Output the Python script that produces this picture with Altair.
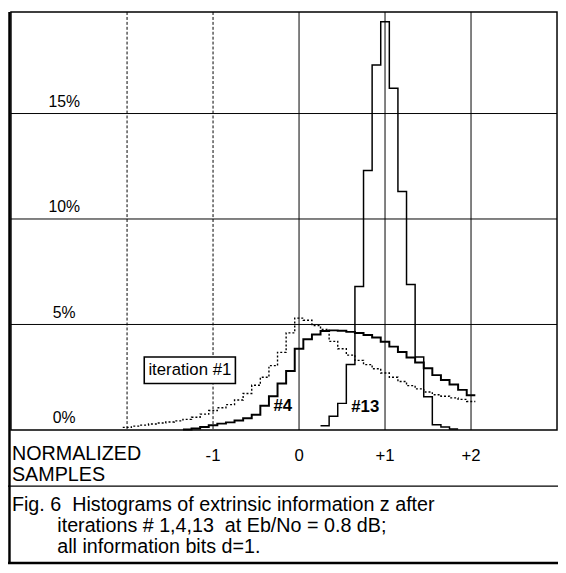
import altair as alt
import pandas as pd

FONT = "Liberation Sans, Arial, Helvetica, sans-serif"

# ---- data: histogram bin centres (normalized samples) and heights (%) ----
BIN = 0.1
it1_x = [-2.0, -1.9, -1.8, -1.7, -1.6, -1.5, -1.4, -1.3, -1.2, -1.1, -1.0, -0.9, -0.8, -0.7,
         -0.6, -0.5, -0.4, -0.3, -0.2, -0.1, 0.0, 0.1, 0.2, 0.3, 0.4, 0.5, 0.6, 0.7, 0.8, 0.9,
         1.0, 1.1, 1.2, 1.3, 1.4, 1.5, 1.6, 1.7, 1.8, 1.9, 2.0]
it1_y = [0.12, 0.18, 0.23, 0.28, 0.33, 0.38, 0.43, 0.50, 0.60, 0.75, 0.92, 1.05, 1.20, 1.42,
         1.73, 2.12, 2.50, 3.05, 3.68, 4.60, 5.30, 5.20, 4.95, 4.77, 4.20, 3.85, 3.55, 3.30,
         3.10, 2.90, 2.70, 2.50, 2.30, 2.10, 1.95, 1.80, 1.67, 1.60, 1.52, 1.45, 1.35]

it4_x = [-1.3, -1.2, -1.1, -1.0, -0.9, -0.8, -0.7, -0.6, -0.5, -0.4, -0.3, -0.2, -0.1, 0.0,
         0.1, 0.2, 0.3, 0.4, 0.5, 0.6, 0.7, 0.8, 0.9, 1.0, 1.1, 1.2, 1.3, 1.4, 1.5, 1.6, 1.7,
         1.8, 1.9, 2.0]
it4_y = [0.02, 0.07, 0.14, 0.22, 0.30, 0.36, 0.45, 0.56, 0.72, 1.15, 1.60, 2.20, 2.80, 3.85,
         4.30, 4.53, 4.69, 4.72, 4.70, 4.65, 4.60, 4.50, 4.38, 4.18, 3.95, 3.70, 3.44, 3.20,
         2.93, 2.60, 2.37, 2.15, 1.90, 1.65]

it13_x = [0.3, 0.4, 0.5, 0.6, 0.7, 0.8, 0.9, 1.0, 1.1, 1.2, 1.3, 1.4, 1.5, 1.6, 1.7, 1.8]
it13_y = [0.20, 0.65, 1.26, 3.10, 6.80, 12.30, 17.30, 19.35, 16.20, 11.30, 6.90, 3.46, 1.57,
          0.25, 0.14, 0.05]

x_grid = [-2, -1, 0, 1, 2]
x_grid_dashed = [True, True, False, False, False]
y_grid = [5, 10, 15]
x_tick_vals = [-1, 0, 1, 2]
x_tick_text = ["-1", "0", "+1", "+2"]
y_tick_vals = [0, 5, 10, 15]
y_tick_text = ["0%", "5%", "10%", "15%"]

NB = "\u00a0"
caption = ["Fig. 6" + NB + NB + "Histograms of extrinsic information z after",
           "iterations # 1,4,13" + NB + NB + "at Eb/No = 0.8 dB;",
           "all information bits d=1."]
axis_title = ["NORMALIZED", "SAMPLES"]

labels = pd.DataFrame({"x": [-0.19, 0.77], "y": [1.12, 1.08], "t": ["#4", "#13"]})
box = pd.DataFrame({"x": [-1.80], "x2": [-0.74], "y": [2.20], "y2": [3.46],
                    "xc": [-1.27], "yc": [2.83], "t": ["iteration #1"]})

W, H = 554, 424
XD = [-3.35, 3.0]
YD = [0, 19.81]
xs = alt.Scale(domain=XD, nice=False, zero=False)
ys = alt.Scale(domain=YD, nice=False, zero=False)


def steps(cs, vs):
    rows = [{"x": round(c - BIN / 2, 3), "y": v} for c, v in zip(cs, vs)]
    rows.append({"x": round(cs[-1] + BIN / 2, 3), "y": vs[-1]})
    return pd.DataFrame(rows)


X = lambda f="x": alt.X(f"{f}:Q", scale=xs, axis=None)
Y = lambda f="y": alt.Y(f"{f}:Q", scale=ys, axis=None)

gx = pd.DataFrame({"x": x_grid, "d": x_grid_dashed})
grid_x_dash = alt.Chart(gx[gx.d]).mark_rule(color="black", strokeWidth=1, strokeDash=[3, 2]).encode(x=X())
grid_x_solid = alt.Chart(gx[~gx.d]).mark_rule(color="black", strokeWidth=1).encode(x=X())
grid_y = alt.Chart(pd.DataFrame({"y": y_grid})).mark_rule(color="black", strokeWidth=1).encode(y=Y())

line1 = alt.Chart(steps(it1_x, it1_y)).mark_line(
    interpolate="step-after", color="black", strokeWidth=1.4, strokeDash=[2, 2]
).encode(x=X(), y=Y())
line4 = alt.Chart(steps(it4_x, it4_y)).mark_line(
    interpolate="step-after", color="black", strokeWidth=2
).encode(x=X(), y=Y())
line13 = alt.Chart(steps(it13_x, it13_y)).mark_line(
    interpolate="step-after", color="black", strokeWidth=1.5
).encode(x=X(), y=Y())

ylab = alt.Chart(pd.DataFrame({"y": y_tick_vals, "t": y_tick_text})).mark_text(
    font=FONT, fontSize=16, align="center", baseline="alphabetic", dy=-7, color="black"
).encode(x=alt.value(54), y=Y(), text="t:N")

xlab = alt.Chart(pd.DataFrame({"x": x_tick_vals, "t": x_tick_text})).mark_text(
    font=FONT, fontSize=17, align="center", baseline="middle", color="black"
).encode(x=X(), y=alt.value(H + 26), text="t:N")

rect = alt.Chart(box).mark_rect(fill="white", stroke="black", strokeWidth=1.6).encode(
    x=X(), x2="x2:Q", y=Y(), y2="y2:Q")
rect_t = alt.Chart(box).mark_text(font=FONT, fontSize=17, color="black").encode(
    x=X("xc"), y=Y("yc"), text="t:N")
lab = alt.Chart(labels).mark_text(font=FONT, fontSize=17, fontWeight="bold", color="black").encode(
    x=X(), y=Y(), text="t:N")


def text_line(t, px, py, size):
    return alt.Chart(pd.DataFrame({"t": [t]})).mark_text(
        font=FONT, fontSize=size, align="left", baseline="middle", color="black"
    ).encode(x=alt.value(px), y=alt.value(py), text="t:N")


xtitle = [text_line(axis_title[0], 1, H + 24, 20), text_line(axis_title[1], 1, H + 46, 20)]
cap = [text_line(caption[0], 1, H + 76, 20),
       text_line(caption[1], 47, H + 98, 20),
       text_line(caption[2], 47, H + 119, 20)]

one = alt.Data(values=[{"k": 1}])
frame_left = alt.Chart(one).mark_rule(color="black", strokeWidth=2.5).encode(
    x=alt.value(-1.5), y=alt.value(0), y2=alt.value(H + 135))
frame_mid = alt.Chart(one).mark_rule(color="black", strokeWidth=1.2).encode(
    x=alt.value(-3), x2=alt.value(W + 2), y=alt.value(H + 57))
frame_bot = alt.Chart(one).mark_rule(color="black", strokeWidth=2.5).encode(
    x=alt.value(-3), x2=alt.value(W + 2), y=alt.value(H + 135))

chart = alt.layer(
    grid_x_dash, grid_x_solid, grid_y, line1, line4, line13, rect, rect_t, lab, ylab, xlab,
    *xtitle, frame_left, frame_mid, frame_bot, *cap
).properties(
    width=W, height=H,
    autosize=alt.AutoSizeParams(type="none"),
    padding={"left": 3, "top": 0, "right": 1, "bottom": 140},
).configure_view(stroke="black", strokeWidth=1.5)

chart.save("out.html", embed_options={"renderer": "svg", "actions": False})
